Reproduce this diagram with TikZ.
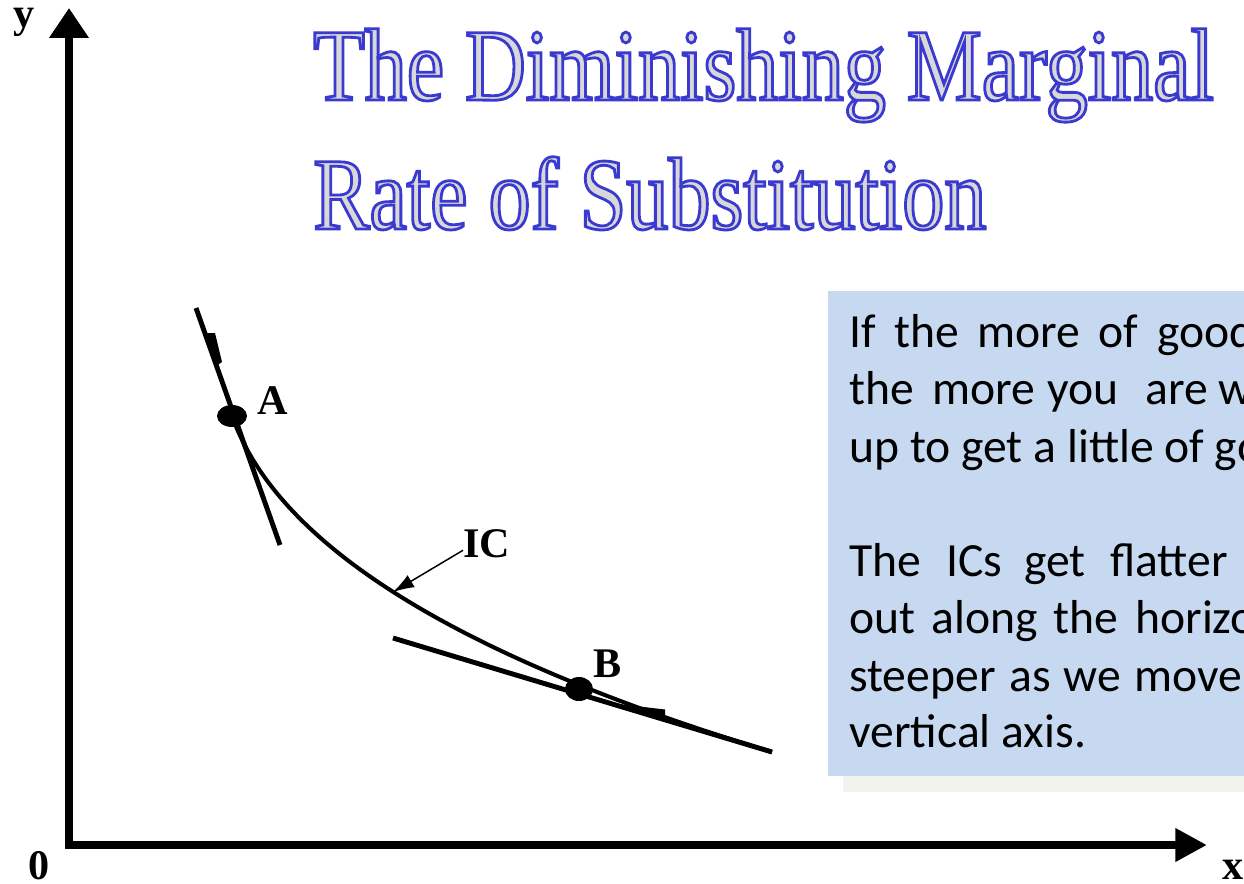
\documentclass[tikz,border=0pt]{standalone}
\usepackage{fontspec}
\setmainfont{Liberation Serif}
\newfontfamily\bodyfont{Carlito}
\newfontfamily\titlefont[FakeStretch=0.82]{Liberation Serif}
\usetikzlibrary{arrows.meta}
\definecolor{boxblue}{RGB}{198,217,240}
\definecolor{shadowgray}{RGB}{242,242,238}
\definecolor{titleblue}{RGB}{58,58,208}
\definecolor{titlefill}{RGB}{216,216,216}
\newcommand{\outlinetext}[1]{\special{pdf:literal direct 2 Tr 1.6 w 0.227 0.227 0.816 RG}#1\special{pdf:literal direct 0 Tr}}
\tikzset{
  axisline/.style={line width=4.5pt},
  tangentline/.style={line width=2.8pt},
  icurve/.style={line width=2.3pt},
  ptlabel/.style={font=\bfseries\fontsize{24pt}{26pt}\selectfont, anchor=base west, inner sep=0pt},
  titletext/.style={font=\titlefont\fontsize{58.4pt}{60pt}\selectfont, text=titlefill, anchor=base west, inner sep=0pt},
  bodytext/.style={font=\bodyfont\fontsize{27.1pt}{33pt}\selectfont, anchor=base west, inner sep=0pt},
  dotmark/.style={fill=black}
}
\begin{document}
\begin{tikzpicture}[x=0.02cm,y=-0.02cm]
\useasboundingbox (0,0) rectangle (1244,883);
\clip (0,0) rectangle (1244,883);
\fill[white] (0,0) rectangle (1244,883);
% text box
\fill[shadowgray] (843,300) rectangle (1260,792);
\fill[boxblue] (828,291) rectangle (1260,776);
% title
\node[titletext] (t1) at (313,100) {\outlinetext{The Diminishing Marginal}};
\node[titletext] (t2) at (313,229) {\outlinetext{Rate of Substitution}};
% axes
\coordinate (O) at (69,845);
\coordinate (ytop) at (69,8);
\coordinate (xend) at (1207,845);
\draw[axisline, -{Triangle[width=21.5pt,length=17pt]}] (69,849) -- (ytop);
\draw[axisline, -{Triangle[width=18pt,length=18pt]}] (65,845) -- (xend);
\node[ptlabel] (ylab) at (13,27) {y};
\node[ptlabel] (zero) at (28,879) {0};
\node[ptlabel] (xlab) at (1222,879) {x};
% tangent lines
\coordinate (ta1) at (196,308);
\coordinate (ta2) at (280,545);
\coordinate (tb1) at (393,638);
\coordinate (tb2) at (772,752);
\draw[tangentline] (ta1) -- (ta2);
\draw[tangentline] (tb1) -- (tb2);
\fill (205,333) -- (215,333) -- (222,362) -- (216,366) -- cycle;
\fill (610,703) -- (665,709.5) -- (665,721) -- (610,705) -- cycle;
% indifference curve
\coordinate (Apt) at (232,416);
\coordinate (Bpt) at (579,689);
\draw[icurve] (Apt) .. controls (282,557) and (485,665) .. (tb2);
\fill[dotmark] (Apt) ellipse [x radius=15, y radius=11];
\fill[dotmark] (Bpt) ellipse [x radius=14, y radius=12];
\node[ptlabel] (A) at (257,414) {A};
\node[ptlabel] (B) at (593,677) {B};
\node[ptlabel] (IC) at (463,557) {IC};
\coordinate (ictip) at (393,592);
\draw[line width=0.85pt, -{Latex[length=12pt,width=8pt]}] ([yshift=-4pt]IC.west) -- (ictip);
% body text
\node[bodytext] (l1a) at (849,347) {If};
\node[bodytext] (l1b) at (894,347) {the};
\node[bodytext] (l1c) at (977,347) {more};
\node[bodytext] (l1d) at (1098,347) {of};
\node[bodytext] (l1e) at (1157,347) {good};
\node[bodytext] (l2a) at (849,404) {the};
\node[bodytext] (l2b) at (932,404) {more};
\node[bodytext] (l2c) at (1047,404) {you};
\node[bodytext] (l2d) at (1145,404) {are};
\node[bodytext] (l2e) at (1218,404) {w};
\node[bodytext] (l3) at (849,462) {up to get a little of go};
\node[bodytext] (l5a) at (849,576) {The};
\node[bodytext] (l5b) at (946,576) {ICs};
\node[bodytext] (l5c) at (1024,576) {get};
\node[bodytext] (l5d) at (1110,576) {flatter};
\node[bodytext] (l6a) at (849,633) {out};
\node[bodytext] (l6b) at (931,633) {along};
\node[bodytext] (l6c) at (1053,633) {the};
\node[bodytext] (l6d) at (1135,633) {horizo};
\node[bodytext] (l7a) at (849,691) {steeper};
\node[bodytext] (l7b) at (1009,691) {as};
\node[bodytext] (l7c) at (1063,691) {we};
\node[bodytext] (l7d) at (1134,691) {move};
\node[bodytext] (l8) at (849,747) {vertical axis.};
\end{tikzpicture}
\end{document}
